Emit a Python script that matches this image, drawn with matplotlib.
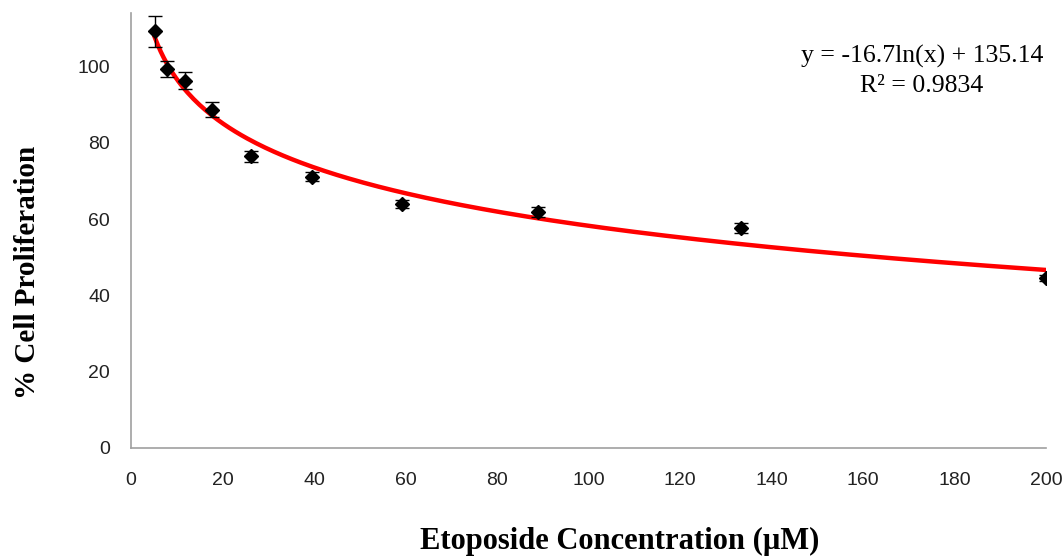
import numpy as np
import matplotlib
matplotlib.use("Agg")
import matplotlib.pyplot as plt

# etoposide concentration (uM) and % cell proliferation
conc = [5.2, 7.8, 11.7, 17.6, 26.3, 39.5, 59.3, 88.9, 133.3, 200.0]
prolif = [109.2, 99.2, 96.3, 88.7, 76.4, 71.1, 64.0, 61.9, 57.7, 44.6]
err = [4.0, 2.1, 2.2, 2.0, 1.5, 1.2, 1.0, 1.3, 1.3, 0.8]

# logarithmic trendline y = a*ln(x) + b
a, b = -16.7, 135.14
xfit = np.linspace(min(conc), max(conc), 300)
yfit = a * np.log(xfit) + b

fig = plt.figure(figsize=(10.63, 5.56), dpi=100)
ax = fig.add_axes([131/1063, 1 - 448/556, (1046-131)/1063, (448-13)/556])

ax.plot(xfit, yfit, color='red', lw=3.2, zorder=2)
ax.errorbar(conc, prolif, yerr=err, fmt='D', color='black', ms=7,
            ecolor='black', elinewidth=1, capsize=5, capthick=1, zorder=3)

ax.set_xlim(0, 200)
ax.set_ylim(0, 114)
ax.set_xticks(range(0, 201, 20))
ax.set_yticks(range(0, 101, 20))
for s in ['top', 'right']:
    ax.spines[s].set_visible(False)
for s in ['left', 'bottom']:
    ax.spines[s].set_color('#a0a0a0')
    ax.spines[s].set_linewidth(1.2)
ax.tick_params(length=0, labelsize=14, colors='#222222')
ax.tick_params(axis='x', pad=17)
ax.tick_params(axis='y', pad=15)
for lab in ax.get_xticklabels() + ax.get_yticklabels():
    lab.set_family('Liberation Sans')

fig.text(620/1063, 1 - 541/556, 'Etoposide Concentration (µM)', ha='center', va='center',
         family='Liberation Serif', fontweight='bold', fontsize=22)
fig.text(28/1063, 1 - 272/556, '% Cell Proliferation', ha='center', va='center',
         rotation=90, family='Liberation Serif', fontweight='bold', fontsize=21)

fig.text(922/1063, 1 - 56/556, 'y = -16.7ln(x) + 135.14', ha='center', va='center',
         family='Liberation Serif', fontsize=18.5)
fig.text(922/1063, 1 - 86/556, 'R² = 0.9834', ha='center', va='center',
         family='Liberation Serif', fontsize=18.5)

fig.savefig('out.png', dpi=100)
